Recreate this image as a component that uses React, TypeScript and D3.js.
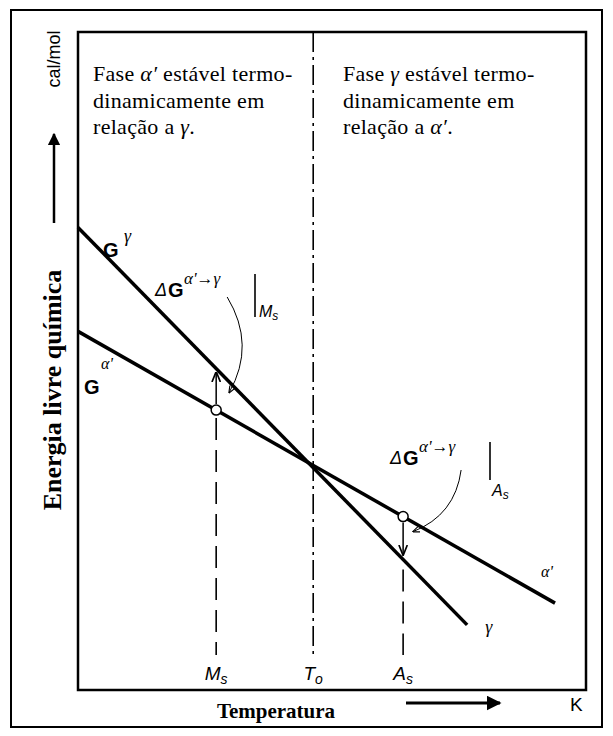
import React from 'react';
import * as d3 from 'd3';

// free energy lines (arbitrary units: temperature 0-100, G 0-100)
const gammaLine = [
  { t: 0, g: 70.3 },
  { t: 76.6, g: 9.9 },
];
const alphaLine = [
  { t: 0, g: 54.5 },
  { t: 93.9, g: 13.2 },
];
const tempNames = ['M', 'T', 'A'];
const tempSubs = ['s', 'o', 's'];
const tempValues = [27.2, 46.3, 64.0];
const leftText = ['Fase ', '  estável termo-', 'dinamicamente  em', 'relação a '];
const rightText = ['Fase ', ' estável termo-', 'dinamicamente  em', 'relação a '];

const W = 613;
const H = 736;
const frame = { left: 78, right: 586, top: 32, bottom: 690 };

const serif = '"Liberation Serif", "Times New Roman", serif';
const sans = '"Liberation Sans", Arial, sans-serif';

const gAt = (line, t) => {
  const [a, b] = line;
  return a.g + ((b.g - a.g) * (t - a.t)) / (b.t - a.t);
};

const App = () => {
  const x = d3.scaleLinear().domain([0, 100]).range([frame.left, frame.right]);
  const y = d3.scaleLinear().domain([0, 100]).range([frame.bottom, frame.top]);

  const line = d3
    .line()
    .x((d) => x(d.t))
    .y((d) => y(d.g));

  const [tMs, tTo, tAs] = tempValues;
  const xMs = x(tMs);
  const xTo = x(tTo);
  const xAs = x(tAs);
  const msAlpha = y(gAt(alphaLine, tMs));
  const msGamma = y(gAt(gammaLine, tMs));
  const asAlpha = y(gAt(alphaLine, tAs));
  const asGamma = y(gAt(gammaLine, tAs));
  const lineEnd = 655;

  const curve = (x0, y0, cx, cy, x1, y1) => {
    const p = d3.path();
    p.moveTo(x0, y0);
    p.quadraticCurveTo(cx, cy, x1, y1);
    return p.toString();
  };

  const gammaEnd = gammaLine[gammaLine.length - 1];
  const alphaEnd = alphaLine[alphaLine.length - 1];

  return (
    <svg
      width={W}
      height={H}
      style={{ position: 'absolute', left: 0, top: 0, background: '#fff' }}
    >
      <defs>
        <marker id="head" viewBox="0 0 10 10" refX="9" refY="5" markerWidth="7" markerHeight="7" orient="auto">
          <path d="M0,1 L10,5 L0,9" fill="none" stroke="#000" strokeWidth="1.6" />
        </marker>
        <marker id="solid" viewBox="0 0 10 10" refX="9" refY="5" markerWidth="5" markerHeight="5" orient="auto">
          <path d="M0,0 L10,5 L0,10 Z" fill="#000" />
        </marker>
      </defs>

      {/* outer border */}
      <rect x={11} y={10} width={591} height={717} fill="#fff" stroke="#000" strokeWidth={2} />

      {/* plot frame */}
      <rect
        x={frame.left}
        y={frame.top}
        width={frame.right - frame.left}
        height={frame.bottom - frame.top}
        fill="none"
        stroke="#000"
        strokeWidth={2.5}
      />

      {/* vertical reference lines */}
      <line x1={xTo} x2={xTo} y1={frame.top} y2={lineEnd} stroke="#000" strokeWidth={1.6} strokeDasharray="20 5 3 5" />
      <line x1={xMs} x2={xMs} y1={msAlpha + 8} y2={lineEnd} stroke="#000" strokeWidth={1.6} strokeDasharray="22 10" />
      <line x1={xAs} x2={xAs} y1={asGamma + 10} y2={lineEnd} stroke="#000" strokeWidth={1.6} strokeDasharray="22 10" />

      {/* free energy lines */}
      <path d={line(gammaLine)} fill="none" stroke="#000" strokeWidth={3.5} />
      <path d={line(alphaLine)} fill="none" stroke="#000" strokeWidth={3.5} />

      {/* driving force arrows */}
      <line x1={xMs} x2={xMs} y1={msAlpha - 6} y2={msGamma + 4} stroke="#000" strokeWidth={1.5} markerEnd="url(#head)" />
      <line x1={xAs} x2={xAs} y1={asAlpha + 6} y2={asGamma - 5} stroke="#000" strokeWidth={1.5} markerEnd="url(#head)" />
      <circle cx={xMs} cy={msAlpha} r={5} fill="#fff" stroke="#000" strokeWidth={1.5} />
      <circle cx={xAs} cy={asAlpha} r={5} fill="#fff" stroke="#000" strokeWidth={1.5} />

      <path d={curve(xMs + 11, 297, xMs + 40, 345, xMs + 13, msGamma + 24)} fill="none" stroke="#000" strokeWidth={1} markerEnd="url(#head)" />
      <path d={curve(xAs + 58, 470, xAs + 52, 515, xAs + 10, asAlpha + 15)} fill="none" stroke="#000" strokeWidth={1} markerEnd="url(#head)" />

      {/* temperature marks */}
      {tempValues.map((t, i) => (
        <text key={i} x={x(t)} y={680} textAnchor="middle" fontFamily={sans} fontStyle="italic" fontSize={19}>
          {tempNames[i]}
          <tspan fontSize={14} dy={4}>{tempSubs[i]}</tspan>
        </text>
      ))}

      {/* curve labels */}
      <text x={103} y={257} fontFamily={sans} fontWeight="bold" fontSize={20}>G</text>
      <text x={124} y={242} fontFamily={serif} fontStyle="italic" fontSize={18}>γ</text>
      <text x={84} y={394} fontFamily={sans} fontWeight="bold" fontSize={20}>G</text>
      <text x={101} y={369} fontFamily={serif} fontStyle="italic" fontSize={16}>α'</text>
      <text x={x(gammaEnd.t) + 18} y={y(gammaEnd.g) + 8} fontFamily={serif} fontStyle="italic" fontSize={18}>γ</text>
      <text x={x(alphaEnd.t) - 14} y={y(alphaEnd.g) - 26} fontFamily={serif} fontStyle="italic" fontSize={16}>α'</text>

      {/* ΔG at Ms */}
      <text x={155} y={296} fontFamily={sans} fontStyle="italic" fontSize={18}>Δ</text>
      <text x={168} y={297} fontFamily={sans} fontWeight="bold" fontSize={20}>G</text>
      <text x={184} y={284} fontFamily={serif} fontStyle="italic" fontSize={17}>α'→γ</text>
      <line x1={255} x2={255} y1={274} y2={317} stroke="#000" strokeWidth={1.6} />
      <text x={259} y={317} fontFamily={sans} fontStyle="italic" fontSize={16}>
        M<tspan fontSize={12} dy={3}>s</tspan>
      </text>

      {/* ΔG at As */}
      <text x={390} y={464} fontFamily={sans} fontStyle="italic" fontSize={18}>Δ</text>
      <text x={403} y={465} fontFamily={sans} fontWeight="bold" fontSize={20}>G</text>
      <text x={419} y={452} fontFamily={serif} fontStyle="italic" fontSize={17}>α'→γ</text>
      <line x1={490} x2={490} y1={442} y2={480} stroke="#000" strokeWidth={1.6} />
      <text x={492} y={496} fontFamily={sans} fontStyle="italic" fontSize={16}>
        A<tspan fontSize={12} dy={3}>s</tspan>
      </text>

      {/* region texts */}
      <g fontFamily={serif} fontSize={22} letterSpacing={0.3} style={{ whiteSpace: 'pre' }}>
        <text x={93} y={81}>
          {leftText[0]}
          <tspan fontStyle="italic">α′</tspan>
          {leftText[1]}
        </text>
        <text x={93} y={108}>{leftText[2]}</text>
        <text x={93} y={134}>
          {leftText[3]}
          <tspan fontStyle="italic">γ</tspan>.
        </text>
        <text x={343} y={81}>
          {rightText[0]}
          <tspan fontStyle="italic">γ</tspan>
          {rightText[1]}
        </text>
        <text x={343} y={108}>{rightText[2]}</text>
        <text x={343} y={134}>
          {rightText[3]}
          <tspan fontStyle="italic">α′</tspan>.
        </text>
      </g>

      {/* y axis title */}
      <text
        transform="translate(61,390) rotate(-90)"
        textAnchor="middle"
        fontFamily={serif}
        fontWeight="bold"
        fontSize={26}
      >
        Energia livre química
      </text>
      <text transform="translate(60,59) rotate(-90)" textAnchor="middle" fontFamily={sans} fontSize={18}>
        cal/mol
      </text>
      <line x1={54} x2={54} y1={223} y2={134} stroke="#000" strokeWidth={2.5} markerEnd="url(#solid)" />

      {/* x axis title */}
      <text x={276} y={718} textAnchor="middle" fontFamily={serif} fontWeight="bold" fontSize={21}>
        Temperatura
      </text>
      <line x1={406} x2={500} y1={703} y2={703} stroke="#000" strokeWidth={3} markerEnd="url(#solid)" />
      <text x={570} y={711} fontFamily={sans} fontSize={19}>K</text>
    </svg>
  );
};

export default App;
